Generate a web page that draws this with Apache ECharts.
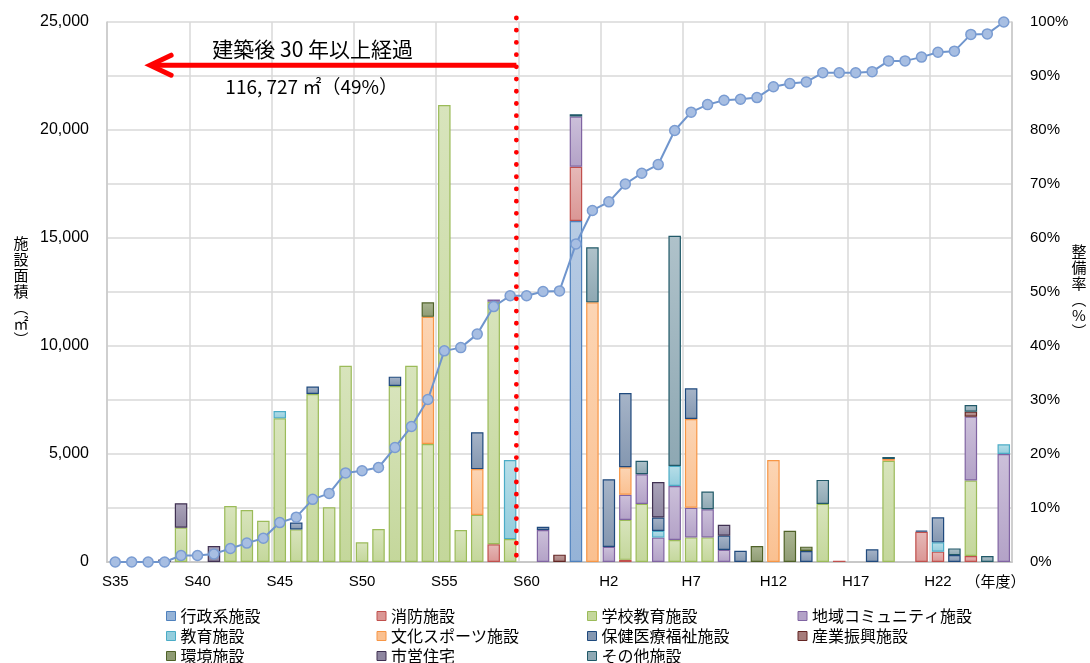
<!DOCTYPE html>
<html><head><meta charset="utf-8">
<script src="https://cdn.jsdelivr.net/npm/echarts@6/dist/echarts.min.js"></script>
<style>html,body{margin:0;padding:0;background:#fff}#c{width:1090px;height:663px}</style>
</head><body><div id="c"></div>
<script>
const _ = null;
const categories = ['S35','S36','S37','S38','S39','S40','S41','S42','S43','S44','S45','S46','S47','S48','S49','S50','S51','S52','S53','S54','S55','S56','S57','S58','S59','S60','S61','S62','S63','H1','H2','H3','H4','H5','H6','H7','H8','H9','H10','H11','H12','H13','H14','H15','H16','H17','H18','H19','H20','H21','H22','H23','H24','H25','H26'];
const leftTicks = [0, 5000, 10000, 15000, 20000, 25000];
const rightTicks = [0,10,20,30,40,50,60,70,80,90,100];

const gyosei = [_,_,_,_,_, _,_,_,_,_, _,_,_,_,_, _,_,_,_,_, _,_,_,_,_, _,_,_,15790,_, _,_,_,_,_, _,_,_,_,_, _,_,_,_,_, _,_,_,_,_, _,_,_,_,_];
const shobo  = [_,_,_,_,_, _,_,_,_,_, _,_,_,_,_, _,_,_,_,_, _,_,_,820,_, _,_,_,2510,_, _,100,_,_,_, _,_,_,_,_, _,_,_,_,60, _,_,_,_,1400, 480,_,280,_,_];
const gakko  = [_,_,_,_,1590, _,_,2590,2410,1910, 6650,1510,7780,2530,9080, 910,1530,8150,9080,5460, 21160,1480,2180,11230,1060, _,_,_,_,_, _,1850,2690,_,1020, 1140,1140,_,_,_, _,_,_,2690,_, _,_,4690,_,_, _,_,3490,_,_];
const chiiki = [_,_,_,_,_, _,_,_,_,_, _,_,_,_,_, _,_,_,_,_, _,_,_,100,_, _,1480,_,2320,_, 700,1160,1370,1130,2500, 1370,1300,560,_,_, _,_,_,_,_, _,_,_,_,_, _,_,2960,_,5000];
const kyoiku = [_,_,_,_,_, _,_,_,_,_, 340,_,_,_,_, _,_,_,_,_, _,_,_,_,3660, _,_,_,_,_, _,_,_,310,930, _,_,_,_,_, _,_,_,_,_, _,_,_,_,_, 430,_,_,_,450];
const bunka  = [_,_,_,_,_, _,_,_,_,_, _,_,_,_,_, _,_,_,_,5890, _,_,2120,_,_, _,_,_,_,12020, _,1280,_,_,_, 4110,_,_,_,_, 4720,_,_,_,_, _,_,80,_,_, _,_,_,_,_];
const hoken  = [_,_,_,_,_, _,_,_,_,_, _,320,340,_,_, _,_,430,_,_, _,_,1710,_,_, _,150,_,_,_, 3130,3430,_,620,_, 1420,_,660,520,_, _,_,510,_,_, _,590,_,_,50, 1160,320,_,_,_];
const sangyo = [_,_,_,_,_, _,_,_,_,_, _,_,_,_,_, _,_,_,_,_, _,_,_,_,_, _,_,340,_,_, _,_,_,_,_, _,_,_,_,_, _,_,_,_,_, _,_,_,_,_, _,_,230,_,_];
const kankyo = [_,_,_,_,_, _,_,_,_,_, _,_,_,_,_, _,_,_,_,670, _,_,_,_,_, _,_,_,_,_, _,_,_,_,_, _,_,_,_,740, _,1450,200,_,_, _,_,_,_,_, _,_,_,_,_];
const shiei  = [_,_,_,120,1130, _,740,_,_,_, _,_,_,_,_, _,_,_,_,_, _,_,_,_,_, _,_,_,_,_, _,_,_,1640,_, _,_,500,_,_, _,_,_,_,_, _,_,_,_,_, _,_,_,_,_];
const sonota = [_,_,_,_,_, _,_,_,_,_, _,_,_,_,_, _,_,_,_,_, _,_,_,_,_, _,_,_,110,2550, _,_,630,_,10650, _,820,_,_,_, _,_,_,1110,_, _,_,90,_,_, _,310,310,280,_];
const ratio  = [0,0,0,0,1.2, 1.2,1.5,2.5,3.5,4.4, 7.3,8.3,11.6,12.7,16.5, 16.9,17.5,21.2,25.1,30.1, 39.1,39.7,42.2,47.3,49.3, 49.3,50.1,50.2,58.9,65.1, 66.7,70.0,72.0,73.6,79.9, 83.3,84.7,85.5,85.7,86.0, 88.0,88.6,88.9,90.6,90.6, 90.6,90.8,92.8,92.8,93.5, 94.4,94.6,97.7,97.8,100];

const seriesNames = ['行政系施設','消防施設','学校教育施設','地域コミュニティ施設','教育施設','文化スポーツ施設','保健医療福祉施設','産業振興施設','環境施設','市営住宅','その他施設'];
const seriesData = [gyosei, shobo, gakko, chiiki, kyoiku, bunka, hoken, sangyo, kankyo, shiei, sonota];
const fills   = ['#95B3D7','#DA9694','#C4D79B','#B3A2C7','#93CDDD','#FAC090','#8497B0','#A67C7B','#8F9C74','#8E86A0','#8EA8B3'];
const tops    = ['#B8CCE4','#E6B9B8','#D8E4BC','#CCC0DA','#B7DEE8','#FCD5B4','#A6B4C8','#BE9C9B','#AAB592','#ABA4BA','#AFC2CA'];
const borders = ['#4F81BD','#C0504D','#9BBB59','#8064A2','#4BACC6','#F79646','#1F497D','#632523','#4F6228','#403152','#215968'];

const FONT = "'Liberation Sans', 'Noto Sans CJK JP', sans-serif";
const JFONT = "'Noto Sans CJK JP', sans-serif";

const barSeries = seriesNames.map((n, i) => ({
  name: n, type: 'bar', stack: 'total', barWidth: '76%',
  data: seriesData[i],
  itemStyle: {
    color: new echarts.graphic.LinearGradient(0, 0, 0, 1, [{offset: 0, color: tops[i]}, {offset: 1, color: fills[i]}]),
    borderColor: borders[i], borderWidth: 1.2
  },
  emphasis: {disabled: true}
}));

const legendRows = [[0,1,2,3],[4,5,6,7],[8,9,10]];
const legendTops = [607, 627, 647];
const legends = legendRows.map((row, k) => ({
  orient: 'horizontal', left: 166, top: legendTops[k], itemGap: 0,
  itemWidth: 9, itemHeight: 9, icon: 'rect', padding: 0,
  textStyle: {fontFamily: JFONT, fontSize: 16, color: '#000', lineHeight: 18, width: 196},
  selectedMode: false,
  data: row.map(j => ({name: seriesNames[j], itemStyle: {color: fills[j], borderColor: borders[j], borderWidth: 1}}))
}));

const chart = echarts.init(document.getElementById('c'), null, {renderer: 'canvas'});
chart.setOption({
  animation: false,
  backgroundColor: '#fff',
  grid: {left: 107, right: 78, top: 22, bottom: 101, containLabel: false},
  legend: legends,
  xAxis: {
    type: 'category', data: categories, boundaryGap: true,
    axisLine: {show: true, lineStyle: {color: '#C8C8C8', width: 2}},
    axisTick: {show: false},
    axisLabel: {interval: 4, margin: 12, fontSize: 15, color: '#000', fontFamily: FONT},
    splitLine: {show: true, interval: 4, lineStyle: {color: '#D9D9D9', width: 1.5}}
  },
  yAxis: [
    {type: 'value', min: leftTicks[0], max: leftTicks[leftTicks.length-1], interval: leftTicks[1]-leftTicks[0],
     axisLine: {show: true, lineStyle: {color: '#C8C8C8', width: 1.5}},
     axisTick: {show: false}, splitLine: {show: false},
     axisLabel: {margin: 18, fontSize: 16, color: '#000', fontFamily: FONT,
       formatter: v => v.toLocaleString('en-US')}},
    {type: 'value', min: rightTicks[0], max: rightTicks[rightTicks.length-1], interval: rightTicks[1]-rightTicks[0],
     axisLine: {show: true, lineStyle: {color: '#C8C8C8', width: 1.5}},
     axisTick: {show: false},
     splitLine: {show: true, lineStyle: {color: '#D9D9D9', width: 1.5}},
     axisLabel: {margin: 18, fontSize: 15, color: '#000', fontFamily: FONT, formatter: '{value}%'}}
  ],
  series: barSeries.concat([{
    name: '整備率', type: 'line', yAxisIndex: 1, data: ratio, z: 10,
    symbol: 'circle', symbolSize: 10,
    lineStyle: {color: '#6F95CD', width: 2},
    itemStyle: {color: '#A7BEE2', borderColor: '#7A9CD2', borderWidth: 1.5},
    emphasis: {disabled: true}
  }])
});

// annotations positioned through the axes
const px = (cat) => chart.convertToPixel({xAxisIndex: 0}, cat);
const pyL = (v) => chart.convertToPixel({yAxisIndex: 0}, v);
const pyR = (v) => chart.convertToPixel({yAxisIndex: 1}, v);
const dotX = (px('S59') + px('S60')) / 2 - 2;
const tipX = px('S37') + 2;
const arrowY = pyR(92);
const textX = px('S47');

chart.setOption({
  graphic: [
    {type: 'line', z: 100, shape: {x1: dotX, y1: pyL(25000) - 4, x2: dotX, y2: pyL(0)},
     style: {stroke: '#FF0000', lineWidth: 4.8, lineDash: [0.01, 12.2], lineCap: 'round'}},
    {type: 'line', z: 100, shape: {x1: dotX, y1: arrowY, x2: tipX + 2, y2: arrowY},
     style: {stroke: '#FF0000', lineWidth: 5}},
    {type: 'polyline', z: 100, shape: {points: [[tipX + 21, arrowY - 10], [tipX, arrowY], [tipX + 21, arrowY + 10]]},
     style: {stroke: '#FF0000', lineWidth: 5, fill: null, lineJoin: 'miter', lineCap: 'round'}},
    {type: 'text', z: 100, x: textX, y: pyR(95), style: {text: '建築後 30 年以上経過', fill: '#000', font: "21px " + JFONT, align: 'center', verticalAlign: 'middle'}},
    {type: 'text', z: 100, x: textX - 1, y: pyR(88), style: {text: '116, 727 ㎡（49%）', fill: '#000', font: "19px " + JFONT, align: 'center', verticalAlign: 'middle'}},
    {type: 'text', z: 100, x: (px('H25') + px('H26')) / 2, y: pyL(0) + 19, style: {text: '（年度）', fill: '#000', font: "15px " + JFONT, align: 'center', verticalAlign: 'middle'}},
    {type: 'text', z: 100, x: 21, y: 291, style: {text: '施\n設\n面\n積\n︵\n㎡\n︶', fill: '#000', font: "15px " + JFONT, lineHeight: 16, align: 'center', verticalAlign: 'middle'}},
    {type: 'text', z: 100, x: 1079, y: 291, style: {text: '整\n備\n率\n︵\n%\n︶', fill: '#000', font: "15px " + JFONT, lineHeight: 16, align: 'center', verticalAlign: 'middle'}}
  ]
});
</script></body></html>
